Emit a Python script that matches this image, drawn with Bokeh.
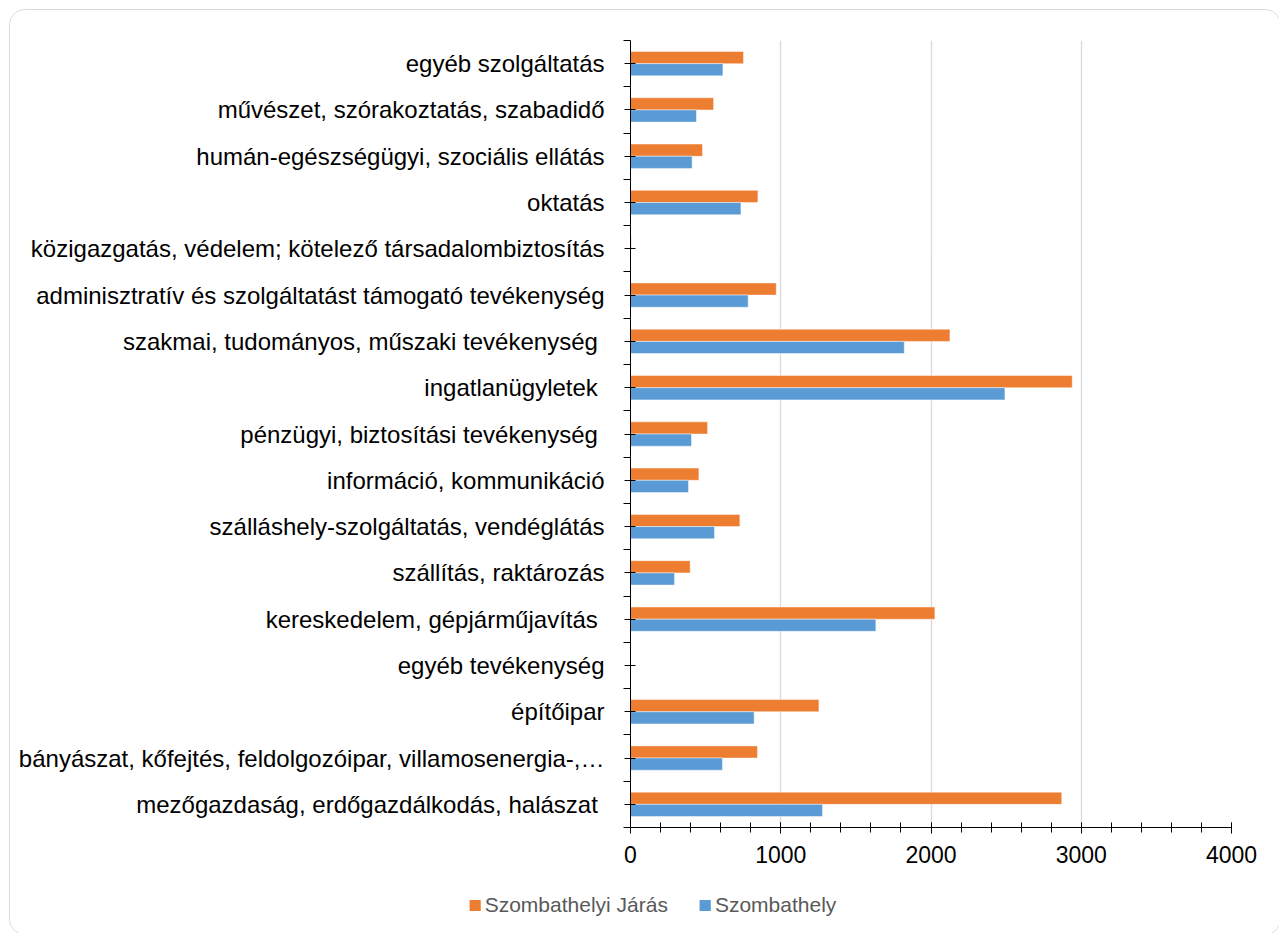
from bokeh.plotting import figure
from bokeh.layouts import column
from bokeh.models import Range1d, FixedTicker, ColumnDataSource, Legend, LegendItem
from bokeh.embed import file_html
from bokeh.resources import INLINE

# categories from bottom to top
categories = [
    "mezőgazdaság, erdőgazdálkodás, halászat ",
    "bányászat, kőfejtés, feldolgozóipar, villamosenergia-,…",
    "építőipar",
    "egyéb tevékenység",
    "kereskedelem, gépjárműjavítás ",
    "szállítás, raktározás",
    "szálláshely-szolgáltatás, vendéglátás",
    "információ, kommunikáció",
    "pénzügyi, biztosítási tevékenység ",
    "ingatlanügyletek ",
    "szakmai, tudományos, műszaki tevékenység ",
    "adminisztratív és szolgáltatást támogató tevékenység",
    "közigazgatás, védelem; kötelező társadalombiztosítás",
    "oktatás",
    "humán-egészségügyi, szociális ellátás",
    "művészet, szórakoztatás, szabadidő",
    "egyéb szolgáltatás",
]
jaras = [2870, 845, 1254, 0, 2026, 397, 728, 455, 513, 2940, 2126, 970, 5, 848, 479, 553, 752]
szombathely = [1278, 612, 823, 0, 1633, 293, 559, 386, 406, 2492, 1822, 783, 2, 735, 410, 439, 615]
series_names = ["Szombathelyi Járás", "Szombathely"]
x_ticks = [0, 1000, 2000, 3000, 4000]

ORANGE = "#ED7D31"
BLUE = "#5B9BD5"
FONT = "Liberation Sans"

n = len(categories)
bar_h = 0.263
centers = [i + 0.5 for i in range(n)]

src_j = ColumnDataSource(dict(y=[c + bar_h / 2 for c in centers], right=jaras))
src_s = ColumnDataSource(dict(y=[c - bar_h / 2 for c in centers], right=szombathely))

W = 1270
p = figure(width=W, height=870, output_backend="svg", toolbar_location=None,
           x_range=Range1d(0, 4000), y_range=Range1d(0, n))
p.min_border_left = 620
p.min_border_right = 49
p.min_border_top = 30
p.min_border_bottom = 53
p.outline_line_color = None
p.background_fill_color = "white"
p.border_fill_color = "white"

bar_style = dict(line_color="white", line_alpha=0.45, line_width=1)
p.hbar(y="y", right="right", left=0, height=bar_h, source=src_j, fill_color=ORANGE, **bar_style)
p.hbar(y="y", right="right", left=0, height=bar_h, source=src_s, fill_color=BLUE, **bar_style)

# x axis
xa = p.xaxis[0]
xa.ticker = FixedTicker(ticks=x_ticks, minor_ticks=list(range(0, 4001, 200)))
xa.axis_line_color = "#000000"
xa.major_tick_line_color = "#000000"
xa.minor_tick_line_color = "#000000"
xa.major_tick_in = 5
xa.major_tick_out = 6
xa.minor_tick_in = 5
xa.minor_tick_out = 5
xa.major_label_text_font = FONT
xa.major_label_text_font_size = "23px"
xa.major_label_text_color = "#000000"
xa.major_label_standoff = 12

# y axis
ya = p.yaxis[0]
ya.ticker = FixedTicker(ticks=centers, minor_ticks=list(range(0, n + 1)))
ya.major_label_overrides = {c: lab for c, lab in zip(centers, categories)}
ya.axis_line_color = "#000000"
ya.major_tick_line_color = "#000000"
ya.minor_tick_line_color = "#000000"
ya.major_tick_in = 5
ya.major_tick_out = 6
ya.minor_tick_in = 0
ya.minor_tick_out = 7
ya.major_label_text_font = FONT
ya.major_label_text_font_size = "24px"
ya.major_label_text_color = "#000000"
ya.major_label_standoff = 19

p.xgrid.grid_line_color = "#d9d9d9"
p.xgrid.grid_line_width = 1.3
p.ygrid.grid_line_color = None

# legend figure (below the chart); proxy renderers lie outside its visible range
pl = figure(width=W, height=54, output_backend="svg", toolbar_location=None,
            x_axis_type=None, y_axis_type=None, x_range=Range1d(0, 1), y_range=Range1d(0, 1))
pl.min_border_left = 14
pl.min_border_right = 0
pl.min_border_top = 0
pl.min_border_bottom = 5
pl.outline_line_color = None
pl.background_fill_color = "white"
pl.border_fill_color = "white"
if "frame_align" in pl.properties():
    pl.frame_align = False
    p.frame_align = False
proxy = ColumnDataSource(dict(y=[-5], right=[0]))
l1 = pl.hbar(y="y", right="right", left=0, height=bar_h, source=proxy, fill_color=ORANGE, line_color=None)
l2 = pl.hbar(y="y", right="right", left=0, height=bar_h, source=proxy, fill_color=BLUE, line_color=None)

legend = Legend(items=[LegendItem(label=series_names[0], renderers=[l1]),
                       LegendItem(label=series_names[1], renderers=[l2])],
                orientation="horizontal", location="center",
                glyph_width=14, glyph_height=14, label_standoff=3, spacing=30,
                padding=0, margin=0, border_line_color=None, background_fill_alpha=0,
                label_text_font=FONT, label_text_font_size="21px",
                label_text_color="#595959")
pl.add_layout(legend)

layout = column(p, pl, spacing=0)
layout.margin = (9, 0, 0, 9)
layout.styles = {"border": "1px solid #d9d9d9", "border-radius": "16px", "overflow": "hidden",
                 "background-color": "white"}

open("out.html", "w").write(file_html(layout, INLINE))
